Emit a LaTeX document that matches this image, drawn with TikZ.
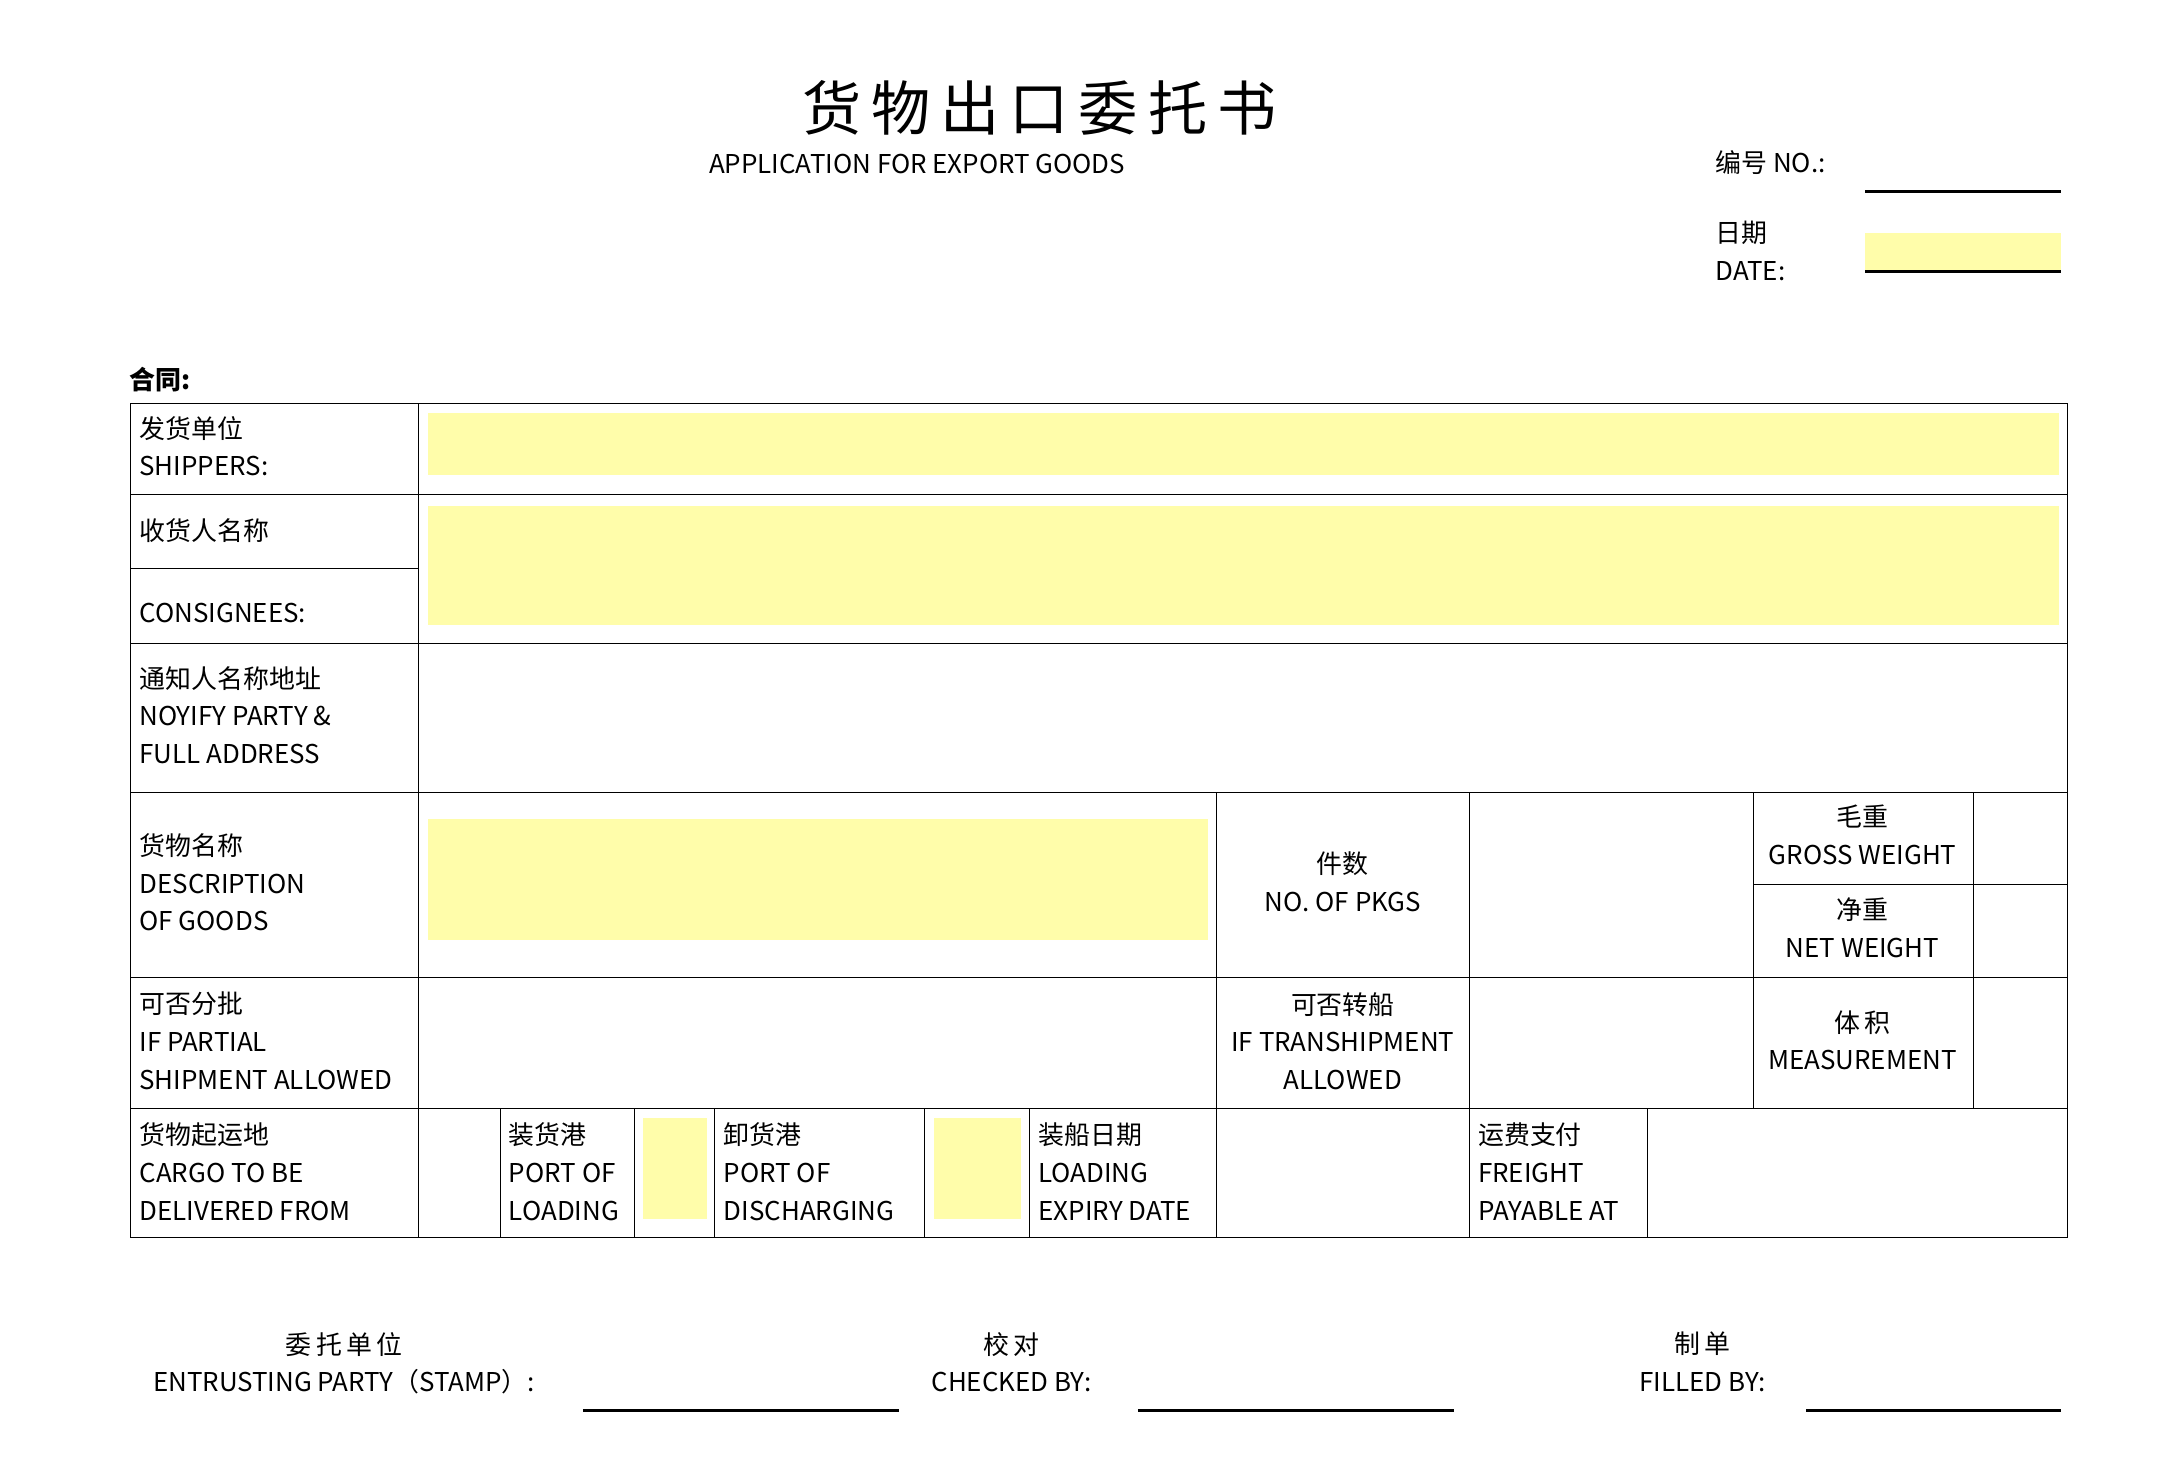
\documentclass[tikz,border=0pt]{standalone}
\usepackage{fontspec}
\setmainfont{Noto Sans CJK SC}
\definecolor{Fillcolor}{RGB}{255, 253, 170}
\begin{document}
\begin{tikzpicture}[x=0.02cm, y=-0.02cm,
    lbl/.style={anchor=north west, align=left, inner sep=0pt, font=\fontsize{10.5}{15.3}\selectfont},
    clbl/.style={anchor=north, align=center, inner sep=0pt, font=\fontsize{10.5}{15.3}\selectfont},
    fillbox/.style={fill=Fillcolor, draw=none},
    uline/.style={line width=1.2pt}]
            \useasboundingbox (0,0) rectangle (1552,1042);
            % yellow fields
            \fill[fillbox] (305,294) rectangle (1466,338);
            \fill[fillbox] (305,360) rectangle (1466,445);
            \fill[fillbox] (305,583) rectangle (860,669);
            \fill[fillbox] (458,796) rectangle (503,868);
            \fill[fillbox] (665,796) rectangle (727,868);
            \fill[fillbox] (1328,166) rectangle (1467,193);
            % header
            \node[inner sep=0pt, font=\fontsize{24}{26}\selectfont] (title) at (740,77) {货\,物\,出\,口\,委\,托\,书};
            \node[inner sep=0pt, font=\fontsize{10.5}{13}\selectfont] (subtitle) at (653,117) {APPLICATION FOR EXPORT GOODS};
            \node[lbl] (no) at (1221,107) {编号 NO.:};
            \node[lbl] (date) at (1221,157) {日期\\DATE:};
            \draw[uline] (1328,136) -- (1467,136);
            \draw[uline] (1328,193) -- (1467,193);
            \node[lbl, font=\fontsize{10.5}{13}\bfseries\selectfont] (contract) at (92,261) {合同:};
            % table grid
            \draw (93,287) rectangle (1472,881);
            \draw (298,287) -- (298,881);
            \foreach \y in {352,458,564,696,789} \draw (93,\y) -- (1472,\y);
            \draw (93,405) -- (298,405);
            \foreach \x in {866,1046,1248,1405} \draw (\x,564) -- (\x,789);
            \draw (1248,630) -- (1472,630);
            \foreach \x in {356,452,509,658,733,866,1046,1173} \draw (\x,789) -- (\x,881);
            % table texts
            \node[lbl] (shippers) at (99,296) {发货单位\\SHIPPERS:};
            \node[lbl] (consignee) at (99,369) {收货人名称};
            \node[lbl] (consigneeEn) at (99,429) {CONSIGNEES:};
            \node[lbl] (notify) at (99,474) {通知人名称地址\\NOYIFY PARTY \&\\FULL ADDRESS};
            \node[lbl] (goods) at (99,593) {货物名称\\DESCRIPTION\\OF GOODS};
            \node[clbl] (pkgs) at (956,606) {件数\\NO. OF PKGS};
            \node[clbl] (gross) at (1326,573) {毛重\\GROSS WEIGHT};
            \node[clbl] (net) at (1326,639) {净重\\NET WEIGHT};
            \node[lbl] (partial) at (99,706) {可否分批\\IF PARTIAL\\SHIPMENT ALLOWED};
            \node[clbl] (trans) at (956,706) {可否转船\\IF TRANSHIPMENT\\ALLOWED};
            \node[clbl] (meas) at (1326,719) {体\,积\\MEASUREMENT};
            \node[lbl] (cargo) at (99,799) {货物起运地\\CARGO TO BE\\DELIVERED FROM};
            \node[lbl] (pol) at (362,799) {装货港\\PORT OF\\LOADING};
            \node[lbl] (pod) at (515,799) {卸货港\\PORT OF\\DISCHARGING};
            \node[lbl] (expiry) at (739,799) {装船日期\\LOADING\\EXPIRY DATE};
            \node[lbl] (freight) at (1052,799) {运费支付\\FREIGHT\\PAYABLE AT};
            % footer
            \node[clbl] (entrust) at (245,948) {委\,托\,单\,位\\ENTRUSTING PARTY（STAMP）:};
            \node[clbl] (checked) at (720,948) {校\,对\\CHECKED BY:};
            \node[clbl] (filled) at (1212,948) {制\,单\\FILLED BY:};
            \draw[uline] (415,1004) -- (640,1004);
            \draw[uline] (810,1004) -- (1035,1004);
            \draw[uline] (1286,1004) -- (1467,1004);
        \end{tikzpicture}
\end{document}
